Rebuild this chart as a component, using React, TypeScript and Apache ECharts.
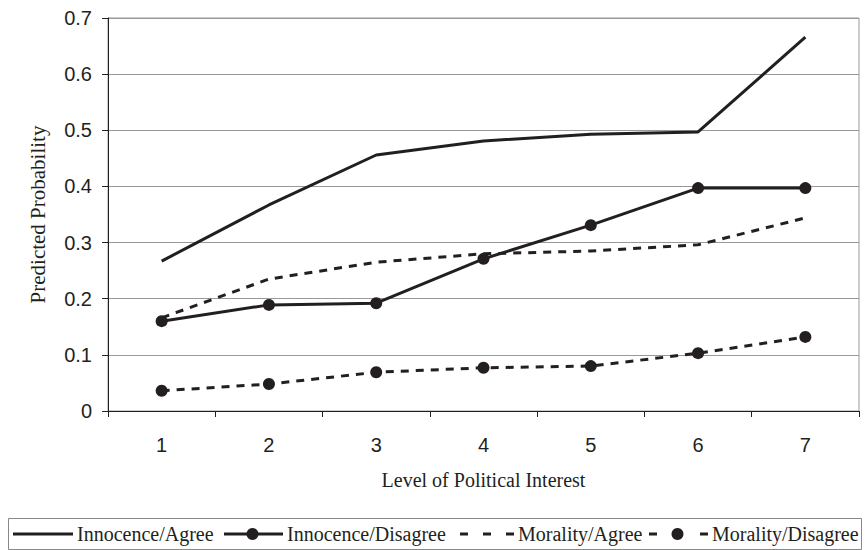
import React, { useEffect, useRef } from "react";
import * as echarts from "echarts";

const categories = ["1", "2", "3", "4", "5", "6", "7"];
const innocenceAgree = [0.267, 0.367, 0.456, 0.481, 0.493, 0.497, 0.666];
const innocenceDisagree = [0.16, 0.189, 0.192, 0.271, 0.331, 0.397, 0.397];
const moralityAgree = [0.166, 0.235, 0.265, 0.28, 0.285, 0.296, 0.344];
const moralityDisagree = [0.036, 0.048, 0.069, 0.077, 0.08, 0.103, 0.132];
const seriesNames = ["Innocence/Agree", "Innocence/Disagree", "Morality/Agree", "Morality/Disagree"];

const INK = "#231f20";
const SERIF = "'Liberation Serif', 'Times New Roman', serif";
const SANS = "'Liberation Sans', Arial, sans-serif";
const DASH = [8, 7];

export default function App() {
  const ref = useRef<HTMLDivElement>(null);
  useEffect(() => {
    if (!ref.current) return;
    const chart = echarts.init(ref.current, null, { renderer: "svg" });
    const mk = (name: string, data: number[], dashed: boolean, marker: boolean) => ({
      name,
      type: "line",
      data,
      symbol: marker ? "circle" : "none",
      symbolSize: 12,
      showSymbol: marker,
      itemStyle: { color: INK },
      lineStyle: { color: INK, width: 3, type: dashed ? DASH : "solid" },
    });

    // legend drawn as graphic elements
    const LY = 534;
    const legendItems = [
      { x0: 13, x1: 73, dash: null as number[] | null, marker: false, tx: 77 },
      { x0: 224, x1: 283, dash: null as number[] | null, marker: true, tx: 287 },
      { x0: 460, x1: 514, dash: [8, 15], marker: false, tx: 518 },
      { x0: 649, x1: 708, dash: [8, 43], marker: true, tx: 712 },
    ];
    const legendGraphics: any[] = [
      {
        type: "rect",
        shape: { x: 8.5, y: 518.5, width: 853, height: 31 },
        style: { fill: "#fff", stroke: "#888", lineWidth: 1 },
      },
    ];
    legendItems.forEach((it, i) => {
      legendGraphics.push({
        type: "line",
        shape: { x1: it.x0, y1: LY, x2: it.x1, y2: LY },
        style: { stroke: INK, lineWidth: 3, lineDash: it.dash },
      });
      if (it.marker) {
        legendGraphics.push({
          type: "circle",
          shape: { cx: (it.x0 + it.x1) / 2 - 1, cy: LY, r: 6 },
          style: { fill: INK },
        });
      }
      legendGraphics.push({
        type: "text",
        x: it.tx,
        y: LY,
        style: {
          text: seriesNames[i],
          fontFamily: SERIF,
          fontSize: 20,
          fill: INK,
          verticalAlign: "middle",
          align: "left",
        },
      });
    });

    chart.setOption({
      animation: false,
      backgroundColor: "#fff",
      grid: {
        left: 108,
        right: 6,
        top: 18,
        bottom: 139,
        show: true,
        borderColor: "#999",
        borderWidth: 1,
      },
      xAxis: {
        type: "category",
        data: categories,
        boundaryGap: true,
        name: "Level of Political Interest",
        nameLocation: "middle",
        nameGap: 59,
        nameTextStyle: { fontFamily: SERIF, fontSize: 20, color: INK },
        axisLine: { lineStyle: { color: INK, width: 1 } },
        axisTick: { show: true, length: 6, lineStyle: { color: INK } },
        axisLabel: { margin: 24, fontFamily: SANS, fontSize: 20, color: INK },
      },
      yAxis: {
        type: "value",
        min: 0,
        max: 0.7,
        interval: 0.1,
        name: "Predicted Probability",
        nameLocation: "middle",
        nameGap: 60,
        nameTextStyle: { fontFamily: SERIF, fontSize: 21, color: INK },
        axisLine: { show: true, lineStyle: { color: INK, width: 1 } },
        axisTick: { show: true, length: 6, lineStyle: { color: INK } },
        axisLabel: {
          margin: 16,
          fontFamily: SANS,
          fontSize: 20,
          color: INK,
          formatter: (v: number) => (v === 0 ? "0" : v.toFixed(1)),
        },
        splitLine: { lineStyle: { color: "#999", width: 1 } },
      },
      graphic: legendGraphics,
      series: [
        mk(seriesNames[0], innocenceAgree, false, false),
        mk(seriesNames[1], innocenceDisagree, false, true),
        mk(seriesNames[2], moralityAgree, true, false),
        mk(seriesNames[3], moralityDisagree, true, true),
      ],
    });
    return () => chart.dispose();
  }, []);
  return <div ref={ref} style={{ width: 865, height: 550, position: "absolute", left: 0, top: 0 }} />;
}
